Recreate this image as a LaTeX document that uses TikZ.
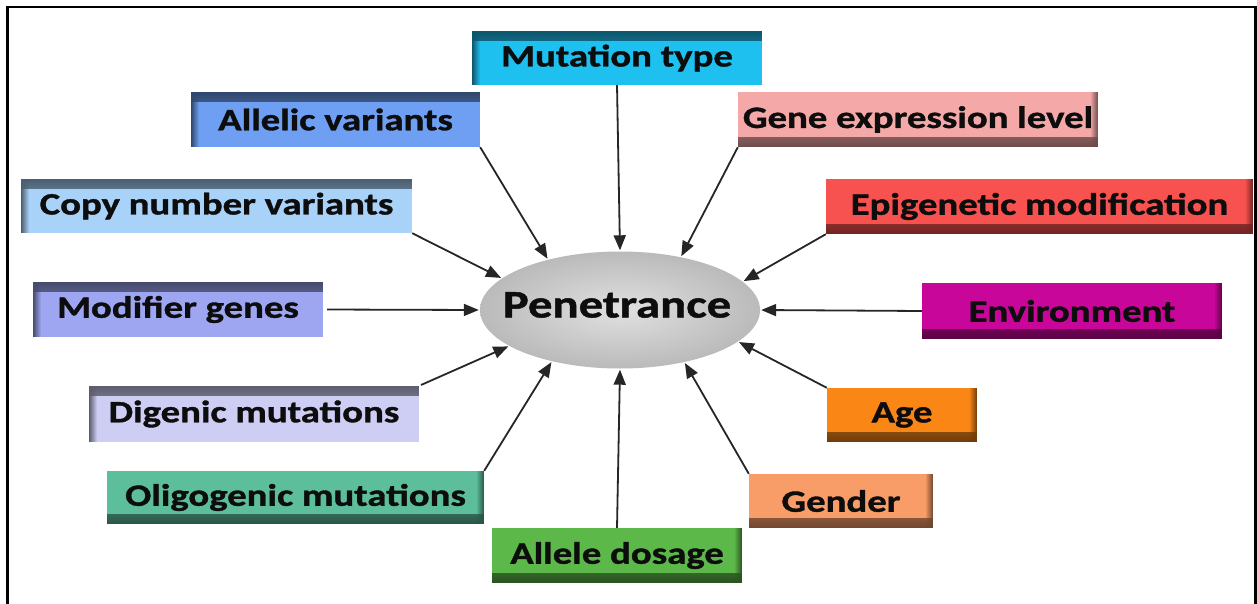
\documentclass[tikz,border=0pt]{standalone}
\usepackage{fontspec}
\setmainfont{Carlito}[FakeStretch=1.25, FakeBold=1.2]
\usetikzlibrary{shapes.geometric,arrows.meta,fadings}
\definecolor{cMut}{HTML}{1EC0F0}
\definecolor{cAll}{HTML}{6E9FF2}
\definecolor{cCop}{HTML}{A8D2F8}
\definecolor{cMod}{HTML}{9EA6F2}
\definecolor{cDig}{HTML}{CECEF5}
\definecolor{cOli}{HTML}{5DBE9C}
\definecolor{cDos}{HTML}{5DB84A}
\definecolor{cGen}{HTML}{F89C68}
\definecolor{cAge}{HTML}{FA8616}
\definecolor{cEnv}{HTML}{C8079A}
\definecolor{cEpi}{HTML}{F7524F}
\definecolor{cExp}{HTML}{F5A8A8}
\definecolor{lineC}{HTML}{262626}
\tikzset{
  boxbase/.style={draw=none, inner sep=0pt, text=black!95,
    font=\fontsize{31}{36}\selectfont\bfseries},
  lbox/.style={boxbase, fill=#1, path picture={
      \fill[#1!45!black, path fading=south]
        (path picture bounding box.north west) rectangle ([yshift=-10pt]path picture bounding box.north east);
      \fill[#1!45!black, path fading=east]
        (path picture bounding box.north west) rectangle ([xshift=8pt]path picture bounding box.south west);
    }},
  rbox/.style={boxbase, fill=#1, path picture={
      \fill[#1!45!black, path fading=north]
        (path picture bounding box.south west) rectangle ([yshift=10pt]path picture bounding box.south east);
      \fill[#1!45!black, path fading=west]
        (path picture bounding box.north east) rectangle ([xshift=-8pt]path picture bounding box.south east);
    }},
  conn/.style={draw=lineC, line width=1.8pt, -{Triangle[length=15pt,width=12pt]}, shorten >=1pt},
}
\begin{document}
\begin{tikzpicture}[x=1pt,y=-1pt]
\useasboundingbox (0,0) rectangle (1257,604);
\fill[white] (0,0) rectangle (1257,604);
\draw[line width=2.5pt] (7.5,620) -- (7.5,7) -- (1255.5,7) -- (1255.5,620);

% center
\node[ellipse, draw=none, inner sep=0pt, minimum width=280pt, minimum height=117pt,
      inner color=black!12, outer color=black!27] (pen) at (620,310) {};
\node[font=\fontsize{39}{44}\selectfont\bfseries, text=black!95, inner sep=0pt] (pent) at (617,305) {Penetrance};

% boxes
\node[lbox=cMut, minimum width=290pt, minimum height=54pt] (mt) at (617,58) {Mutation type};
\node[lbox=cAll, minimum width=289pt, minimum height=55pt] (av) at (335.5,119.5) {Allelic variants};
\node[rbox=cExp, minimum width=360pt, minimum height=55pt] (ge) at (918,119.5) {Gene expression level};
\node[lbox=cCop, minimum width=391pt, minimum height=54pt] (cn) at (216.5,206) {Copy number variants};
\node[rbox=cEpi, minimum width=427pt, minimum height=55pt] (ep) at (1039.5,206.5) {Epigenetic modification};
\node[lbox=cMod, minimum width=290pt, minimum height=55pt] (mg) at (178,309.5) {Modifier genes};
\node[rbox=cEnv, minimum width=300pt, minimum height=56pt] (env) at (1072,311) {Environment};
\node[lbox=cDig, minimum width=330pt, minimum height=56pt] (dg) at (254,414) {Digenic mutations};
\node[rbox=cAge, minimum width=150pt, minimum height=54pt] (ag) at (902,415) {Age};
\node[rbox=cOli, minimum width=377pt, minimum height=53pt] (og) at (295.5,497.5) {Oligogenic mutations};
\node[rbox=cGen, minimum width=184pt, minimum height=54pt] (gd) at (841,501) {Gender};
\node[rbox=cDos, minimum width=250pt, minimum height=55pt] (ad) at (617,555.5) {Allele dosage};

% connectors
\draw[conn] (mt.south) -- (pen.north);
\draw[conn] (av.south east) -- (pen.145);
\draw[conn] (ge.south west) -- (pen.41);
\draw[conn] (cn.south east) -- (pen.165);
\draw[conn] (ep.south west) -- (pen.13);
\draw[conn, shorten <=4pt] (mg.east) -- (pen.west);
\draw[conn] (env.west) -- (pen.east);
\draw[conn, shorten <=2pt] (dg.north east) -- (pen.198);
\draw[conn] (og.north east) -- (pen.217);
\draw[conn] (ad.north) -- (pen.south);
\draw[conn] (gd.north west) -- (pen.321);
\draw[conn] (ag.north west) -- (pen.345);
\end{tikzpicture}
\end{document}
